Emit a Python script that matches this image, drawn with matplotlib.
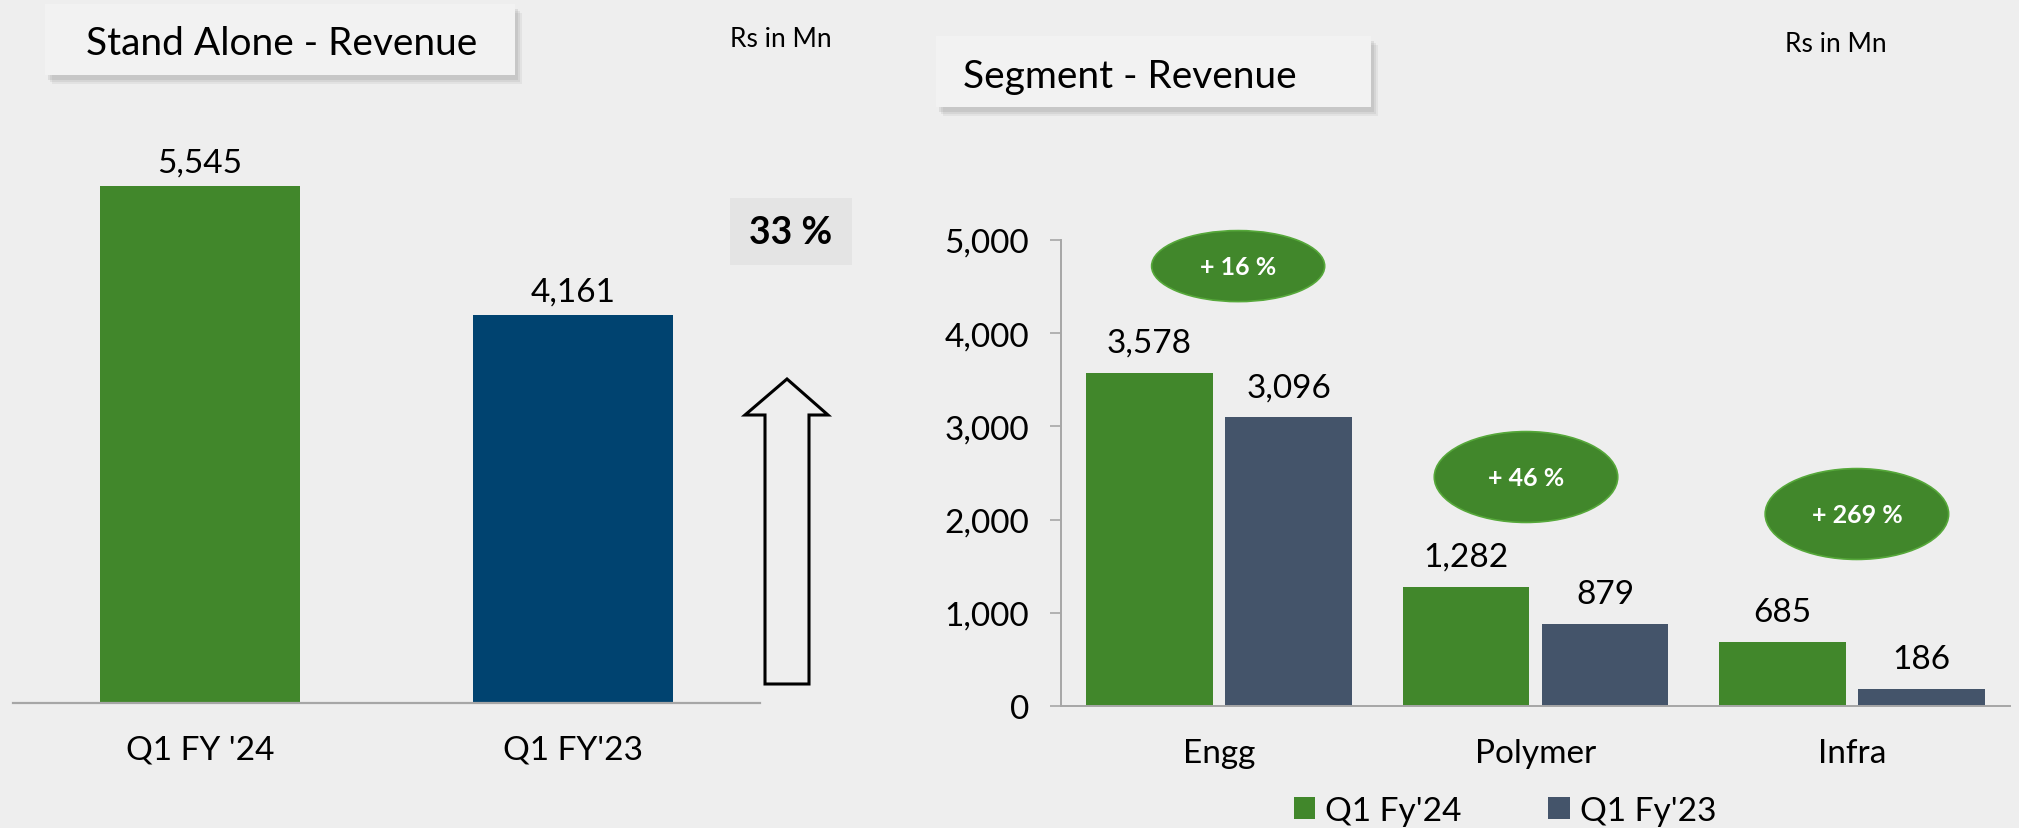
import matplotlib
matplotlib.use("Agg")
import matplotlib.pyplot as plt
import numpy as np
from matplotlib.patches import Rectangle, Ellipse, Polygon

plt.rcParams['font.family'] = ['Lato', 'DejaVu Sans']

# Data
sa_periods = ["Q1 FY '24", "Q1 FY'23"]
sa_revenue = [5545, 4161]
sa_growth = "33 %"

segments = ["Engg", "Polymer", "Infra"]
seg_fy24 = [3578, 1282, 685]
seg_fy23 = [3096, 879, 186]
seg_growth = ["+ 16 %", "+ 46 %", "+ 269 %"]
series_names = ["Q1 Fy'24", "Q1 Fy'23"]

GREEN = "#41872B"
BLUE = "#004370"
SLATE = "#44546A"
BG = "#EEEEEE"
AXIS = "#A6A6A6"
FS = 24

W, H = 2019, 829
fig = plt.figure(figsize=(W / 100, H / 100), dpi=100, facecolor=BG)


def fx(x):
    return x / W


def fy(y):
    return 1 - y / H


def title_box(x0, y0, x1, y1, text, tx, ty):
    # soft shadow
    for i, a in enumerate([0.10, 0.12, 0.16]):
        d = 9 - 2 * i
        fig.patches.append(Rectangle((fx(x0 + d - 2), fy(y1 + d)), fx(x1 - x0), (y1 - y0) / H,
                                     transform=fig.transFigure, facecolor="#7f7f7f",
                                     edgecolor="none", alpha=a, zorder=1))
    fig.patches.append(Rectangle((fx(x0), fy(y1)), fx(x1 - x0), (y1 - y0) / H,
                                 transform=fig.transFigure, facecolor="#F2F2F2",
                                 edgecolor="none", zorder=2))
    fig.text(fx(tx), fy(ty), text, fontsize=28, va='baseline', ha='left', color='black', zorder=3)


title_box(45, 5, 515, 76, "Stand Alone - Revenue", 86, 55)
title_box(936, 37, 1371, 108, "Segment - Revenue", 963, 88)
fig.text(fx(730), fy(47), "Rs in Mn", fontsize=19, va='baseline')
fig.text(fx(1785), fy(52), "Rs in Mn", fontsize=19, va='baseline')

# ---- Stand alone chart
ax1 = fig.add_axes([fx(13), fy(704), fx(747), 559 / H])
ax1.set_facecolor('none')
x1 = np.arange(len(sa_periods))
ax1.bar(x1, sa_revenue, width=0.535, color=[GREEN, BLUE], zorder=2)
for xi, v in zip(x1, sa_revenue):
    ax1.annotate(f"{v:,}", (xi, v), xytext=(0, 11), textcoords='offset points',
                 ha='center', va='baseline', fontsize=FS)
ax1.set_xlim(-0.5, 1.5)
ax1.set_ylim(0, 6000)
ax1.set_xticks(x1)
ax1.set_xticklabels(sa_periods, fontsize=FS)
ax1.set_yticks([])
ax1.tick_params(axis='x', length=0, pad=23)
for s in ['top', 'right', 'left']:
    ax1.spines[s].set_visible(False)
ax1.spines['bottom'].set_color(AXIS)
ax1.spines['bottom'].set_linewidth(1.6)

# growth box and hollow arrow
fig.patches.append(Rectangle((fx(730), fy(266)), fx(122), 67 / H, transform=fig.transFigure,
                             facecolor="#E4E4E4", edgecolor='none'))
fig.text(fx(791), fy(233), sa_growth, fontsize=27, fontweight='bold', ha='center', va='center')
arrow_px = [(787, 380), (828, 416), (809, 416), (809, 685), (765, 685), (765, 416), (745, 416)]
fig.patches.append(Polygon([(fx(a), fy(b)) for a, b in arrow_px], closed=True,
                           transform=fig.transFigure, facecolor='none',
                           edgecolor='black', linewidth=2.2))

# ---- Segment chart
ax2 = fig.add_axes([fx(1061), fy(707), fx(949), 466 / H])
ax2.set_facecolor('none')
x2 = np.arange(len(segments))
off, bw = 0.22, 0.4
b1 = ax2.bar(x2 - off, seg_fy24, bw, color=GREEN, label=series_names[0], zorder=2)
b2 = ax2.bar(x2 + off, seg_fy23, bw, color=SLATE, label=series_names[1], zorder=2)
for xi, v in zip(x2 - off, seg_fy24):
    ax2.annotate(f"{v:,}", (xi, v), xytext=(0, 15), textcoords='offset points',
                 ha='center', va='baseline', fontsize=FS)
for xi, v in zip(x2 + off, seg_fy23):
    ax2.annotate(f"{v:,}", (xi, v), xytext=(0, 15), textcoords='offset points',
                 ha='center', va='baseline', fontsize=FS)
ax2.set_xlim(-0.5, 2.5)
ax2.set_ylim(0, 5000)
ax2.set_yticks(np.arange(0, 5001, 1000))
ax2.yaxis.set_major_formatter(matplotlib.ticker.FuncFormatter(lambda v, p: f"{int(v):,}"))
ax2.set_xticks(x2)
ax2.set_xticklabels(segments, fontsize=FS)
ax2.tick_params(axis='x', length=0, pad=23)
ax2.tick_params(axis='y', length=8, width=1.2, color=AXIS, labelsize=FS, pad=15)
for s in ['top', 'right']:
    ax2.spines[s].set_visible(False)
for s in ['left', 'bottom']:
    ax2.spines[s].set_color(AXIS)
    ax2.spines[s].set_linewidth(1.4)

# growth ellipses (centre offset from category, y in data units, size)
ell_dx = [0.06, -0.03, 0.016]
ell_y = [4720, 2457, 2060]
ell_w = [0.547, 0.58, 0.58]
ell_h = [762, 975, 975]
for xi, dx, ey, ew, eh, txt in zip(x2, ell_dx, ell_y, ell_w, ell_h, seg_growth):
    ax2.add_patch(Ellipse((xi + dx, ey), ew, eh, facecolor=GREEN, edgecolor="#56A83A",
                          linewidth=1.2, zorder=3, clip_on=False))
    ax2.text(xi + dx, ey, txt, color='white', fontsize=18, fontweight='bold',
             ha='center', va='center', zorder=4)

fig.legend(handles=[b1, b2], labels=series_names, loc='center',
           bbox_to_anchor=(fx(1505), fy(812)), ncol=2, frameon=False, fontsize=FS,
           handlelength=0.65, handleheight=0.65, handletextpad=0.3, columnspacing=2.6,
           borderpad=0)

fig.savefig("out.png", dpi=100, facecolor=BG)
